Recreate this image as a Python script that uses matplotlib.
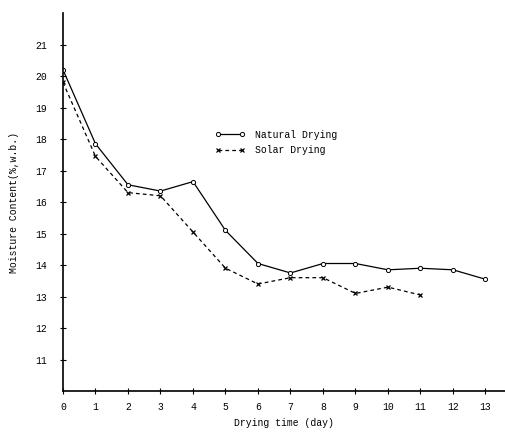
import matplotlib
matplotlib.use("Agg")
import matplotlib.pyplot as plt

# moisture content
days_natural = [0, 1, 2, 3, 4, 5, 6, 7, 8, 9, 10, 11, 12, 13]
natural = [20.2, 17.85, 16.55, 16.35, 16.65, 15.1, 14.05, 13.75, 14.05, 14.05, 13.85, 13.9, 13.85, 13.55]
days_solar = [0, 1, 2, 3, 4, 5, 6, 7, 8, 9, 10, 11]
solar = [19.8, 17.45, 16.3, 16.2, 15.05, 13.9, 13.4, 13.6, 13.6, 13.1, 13.3, 13.05]
x_ticks = list(range(0, 14))
y_ticks = list(range(11, 22))

plt.rcParams["font.family"] = ["Liberation Mono", "DejaVu Sans Mono"]
plt.rcParams["font.size"] = 7

fig = plt.figure(figsize=(5.06, 4.36), dpi=100)
ax = fig.add_axes([0.1245, 0.103, 0.8735, 0.867])

ax.plot(days_natural, natural, color="black", lw=0.9, ls="-",
        marker="o", ms=3, mfc="white", mec="black", mew=0.7, label="Natural Drying")
ax.plot(days_solar, solar, color="black", lw=0.9, ls=(0, (3, 2.5)),
        marker="x", ms=3, mew=0.9, label="Solar Drying")

ax.set_xlim(0, 13.6)
ax.set_ylim(10, 22)
ax.set_xticks(x_ticks)
ax.set_yticks(y_ticks)
ax.spines["top"].set_visible(False)
ax.spines["right"].set_visible(False)
ax.spines["left"].set_linewidth(1.2)
ax.spines["bottom"].set_linewidth(1.2)
ax.tick_params(axis="both", direction="inout", length=5, width=0.8)
ax.tick_params(axis="y", pad=9)
ax.tick_params(axis="x", pad=5)

ax.set_xlabel("Drying time (day)", labelpad=5)
ax.set_ylabel("Moisture Content(%,w.b.)", labelpad=12)

ax.legend(loc="upper left", bbox_to_anchor=(0.325, 0.715), frameon=False,
          numpoints=2, handlelength=3.0, handletextpad=1.1, labelspacing=0.6)

fig.savefig("out.png", dpi=100)
